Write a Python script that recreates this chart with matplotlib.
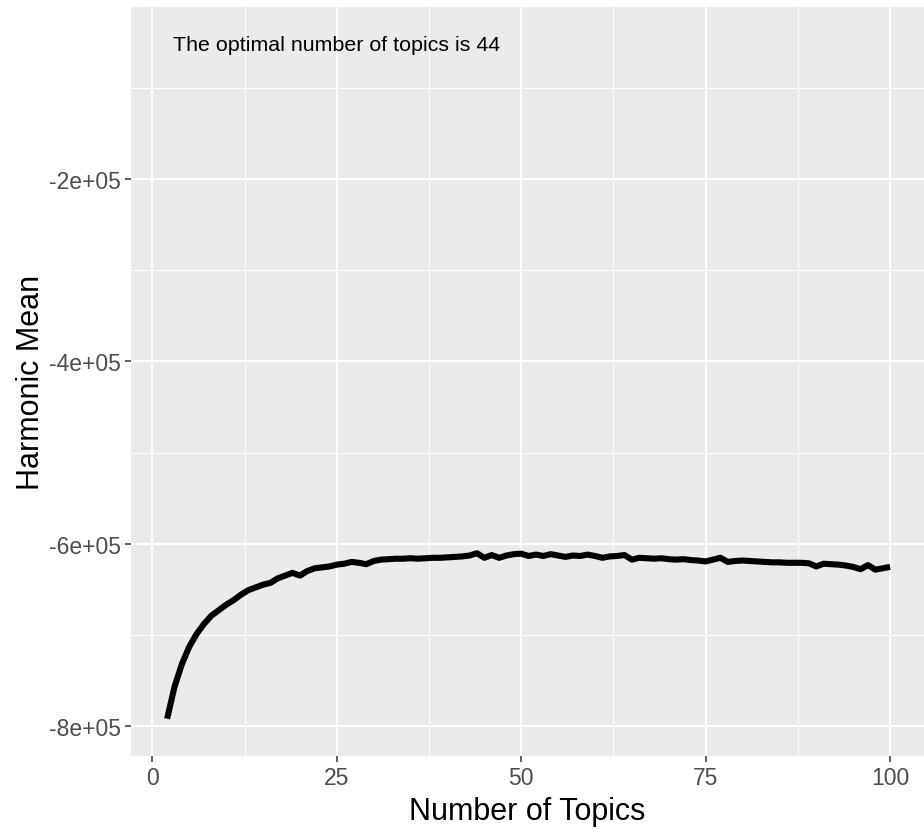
import matplotlib
matplotlib.use('Agg')
import matplotlib.pyplot as plt
from matplotlib.ticker import FixedLocator

plt.rcParams['font.family'] = ['Liberation Sans', 'DejaVu Sans']

# number of topics and harmonic mean
topics = list(range(2, 101))
harmonic_mean = [
  -792000, -757000, -732000, -713000, -699000, -688000, -679000, -673000, -667000, -662000,
  -656000, -651000, -648000, -645000, -643000, -638000, -635000, -632000, -635000, -630000,
  -627000, -626000, -625000, -623000, -622000, -620000, -621000, -622500, -619000, -617500,
  -617000, -616500, -616500, -616000, -616500, -616000, -615500, -615500, -615000, -614500,
  -614000, -613000, -610500, -615500, -612500, -615500, -613000, -611500, -611000, -613500,
  -612000, -613500, -611500, -613000, -614500, -613000, -613500, -612000, -613500, -615500,
  -614000, -613500, -612500, -617500, -615500, -616000, -616500, -616000, -617000, -617500,
  -617000, -618000, -618500, -619500, -617500, -615500, -620000, -619000, -618500, -619000,
  -619500, -620000, -620500, -620500, -621000, -621000, -621000, -621500, -625000, -622000,
  -622500, -623000, -624000, -625500, -628000, -623500, -628500, -627000, -625500,
]
x_ticks = [0, 25, 50, 75, 100]
y_ticks = [-800000, -600000, -400000, -200000]
y_tick_labels = ['-8e+05', '-6e+05', '-4e+05', '-2e+05']
best_k = topics[harmonic_mean.index(max(harmonic_mean))]

fig = plt.figure(figsize=(9.24, 8.37), dpi=100)
ax = fig.add_axes([131/924, 80/837, 1 - 131/924, 749/837])
ax.set_facecolor('#EBEBEB')
for s in ax.spines.values():
  s.set_visible(False)

ax.plot(topics, harmonic_mean, color='black', linewidth=4.4, solid_joinstyle='round', solid_capstyle='butt', zorder=3)

ax.set_xlim(-2.9, 104.6)
ax.set_ylim(-832900, -11340)
ax.xaxis.set_major_locator(FixedLocator(x_ticks))
ax.xaxis.set_minor_locator(FixedLocator([12.5, 37.5, 62.5, 87.5]))
ax.yaxis.set_major_locator(FixedLocator(y_ticks))
ax.yaxis.set_minor_locator(FixedLocator([-700000, -500000, -300000, -100000]))
ax.set_yticklabels(y_tick_labels)
ax.grid(which='major', color='white', linewidth=1.4)
ax.grid(which='minor', color='white', linewidth=0.7)
ax.set_axisbelow(True)
ax.tick_params(which='major', length=4, width=1.1, color='#333333', labelcolor='#4D4D4D', labelsize=16.5, pad=3)
ax.tick_params(which='minor', length=0)

ax.set_xlabel('Number of Topics', fontsize=22, labelpad=5)
ax.set_ylabel('Harmonic Mean', fontsize=22, labelpad=2)

ax.text(2.85, -52000, 'The optimal number of topics is %d' % best_k, ha='left', va='center', fontsize=15.4, color='black')

fig.savefig('out.png', dpi=100)
